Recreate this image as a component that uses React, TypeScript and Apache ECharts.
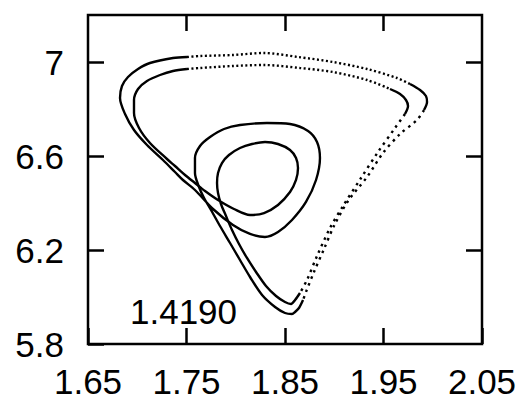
import React, { useEffect, useRef } from 'react';
import * as echarts from 'echarts';

// axis ticks
const xTicks = [1.65, 1.75, 1.85, 1.95, 2.05];
const yTicks = [5.8, 6.2, 6.6, 7.0];
const xTopTicks = [1.75, 1.85, 1.95];
const yRightTicks = [6.2, 6.6, 7.0];
const annotation = '1.4190';

// outer loop (tip -> large inner loop -> left corner -> top start)
const outerLoopSolid = [
  [1.8683, 5.987], [1.8642, 5.9532], [1.8602, 5.9362], [1.8571, 5.9277], [1.85, 5.9319],
  [1.8399, 5.9574], [1.8267, 6.0085], [1.8145, 6.0851], [1.8043, 6.1574], [1.7942, 6.2298],
  [1.784, 6.3021], [1.7749, 6.3702], [1.7678, 6.4213], [1.7627, 6.4681],
  [1.7586, 6.5277], [1.7586, 6.5915], [1.7637, 6.6426], [1.7739, 6.6809], [1.7881, 6.7149],
  [1.8043, 6.7319], [1.8317, 6.7404], [1.8551, 6.7362], [1.8734, 6.7064], [1.8825, 6.6596],
  [1.8855, 6.5915], [1.8815, 6.4979], [1.8713, 6.4043], [1.8571, 6.3277], [1.8429, 6.2766],
  [1.8297, 6.2553], [1.8145, 6.2681], [1.7972, 6.3064], [1.7769, 6.3745], [1.7586, 6.4553],
  [1.7464, 6.4979], [1.7383, 6.5319], [1.7261, 6.583], [1.7099, 6.6468], [1.6967, 6.7106],
  [1.6876, 6.7787], [1.6825, 6.8468], [1.6845, 6.8979], [1.6906, 6.9362], [1.7008, 6.9702],
  [1.7129, 6.9957], [1.7363, 7.017], [1.7505, 7.0213],
];
const outerTopDotted = [
  [1.7505, 7.0213], [1.7637, 7.0255], [1.7972, 7.0298], [1.8287, 7.0383], [1.8632, 7.0213],
  [1.8987, 7.0], [1.9333, 6.9702], [1.9637, 6.9319], [1.9769, 6.9064],
];
const outerCornerSolid = [
  [1.9769, 6.9064], [1.9871, 6.8809], [1.9931, 6.8553], [1.9942, 6.8298], [1.9911, 6.7957],
];
const outerRightDotted = [
  [1.9911, 6.7957], [1.984, 6.7532], [1.9668, 6.6936], [1.9495, 6.6128], [1.9333, 6.5106],
  [1.914, 6.4085], [1.8997, 6.3021], [1.8896, 6.2043], [1.8794, 6.1064], [1.8713, 6.0213],
  [1.8683, 5.987],
];

// inner loop (tip -> small inner loop -> left corner -> top start)
const innerLoopSolid = [
  [1.8652, 6.017], [1.8602, 5.9872], [1.8561, 5.9702], [1.85, 5.9787], [1.8409, 6.0043],
  [1.8307, 6.0468], [1.8206, 6.1064], [1.8114, 6.166], [1.8033, 6.2255], [1.7962, 6.2851],
  [1.7901, 6.3447], [1.785, 6.3957], [1.782, 6.4426], [1.781, 6.4851], [1.782, 6.5277],
  [1.786, 6.5702], [1.7931, 6.6043], [1.8043, 6.634], [1.8165, 6.6511], [1.8297, 6.6596],
  [1.8429, 6.6511], [1.8551, 6.6255], [1.8612, 6.5915], [1.8632, 6.5489], [1.8612, 6.4979],
  [1.8551, 6.4468], [1.8429, 6.3915], [1.8287, 6.3574], [1.8145, 6.3489], [1.7982, 6.3745],
  [1.782, 6.4128], [1.7688, 6.4511], [1.7586, 6.4851], [1.7485, 6.5191], [1.7383, 6.5574],
  [1.7302, 6.5872], [1.7129, 6.6553], [1.7018, 6.7191], [1.6967, 6.783], [1.6967, 6.8383],
  [1.7008, 6.8851], [1.7099, 6.9191], [1.7231, 6.9447], [1.7363, 6.9617], [1.7505, 6.9702],
];
const innerTopDotted = [
  [1.7505, 6.9702], [1.7637, 6.9745], [1.7972, 6.983], [1.8287, 6.9872], [1.8652, 6.9745],
  [1.8987, 6.9574], [1.9333, 6.9234], [1.9566, 6.8851],
];
const innerCornerSolid = [
  [1.9566, 6.8851], [1.9668, 6.8638], [1.9728, 6.8383], [1.9749, 6.8128], [1.9718, 6.7787],
];
const innerRightDotted = [
  [1.9718, 6.7787], [1.9617, 6.7191], [1.9444, 6.617], [1.9272, 6.5064], [1.9089, 6.3872],
  [1.8957, 6.2936], [1.8825, 6.1745], [1.8723, 6.0723], [1.8652, 6.017],
];

const FONT = '"Liberation Sans", Arial, Helvetica, sans-serif';

function seg(data: number[][], dash: number[] | 'solid') {
  return {
    type: 'line',
    data,
    showSymbol: false,
    symbol: 'none',
    smooth: 0.3,
    silent: true,
    lineStyle: { color: '#000', width: 2.4, type: dash, cap: 'butt' },
  };
}

export default function App() {
  const ref = useRef<HTMLDivElement>(null);
  useEffect(() => {
    document.body.style.margin = '0';
    const chart = echarts.init(ref.current!, null, { renderer: 'svg' });
    const tickStyle = { color: '#000', width: 2.5 };
    chart.setOption({
      animation: false,
      backgroundColor: '#fff',
      grid: {
        left: 88, right: 47, top: 15, bottom: 55,
        show: true, borderColor: '#000', borderWidth: 2.5,
        containLabel: false, outerBoundsMode: 'none',
      },
      xAxis: [
        {
          type: 'value', min: 1.65, max: 2.05, position: 'bottom',
          axisLine: { show: false }, splitLine: { show: false },
          axisTick: { show: true, inside: true, length: 16, lineStyle: tickStyle, customValues: xTicks },
          axisLabel: {
            customValues: xTicks, showMinLabel: true, showMaxLabel: true,
            fontSize: 35, lineHeight: 28, fontFamily: FONT, color: '#000', margin: 23,
            formatter: (v: number) => v.toFixed(2),
          },
        },
        {
          type: 'value', min: 1.65, max: 2.05, position: 'top',
          axisLine: { show: false }, splitLine: { show: false },
          axisTick: { show: true, inside: true, length: 16, lineStyle: tickStyle, customValues: xTopTicks },
          axisLabel: { show: false },
        },
      ],
      yAxis: [
        {
          type: 'value', min: 5.8, max: 7.2, position: 'left',
          axisLine: { show: false }, splitLine: { show: false },
          axisTick: { show: true, inside: true, length: 16, lineStyle: tickStyle, customValues: yTicks },
          axisLabel: {
            customValues: yTicks, showMinLabel: true, showMaxLabel: true,
            fontSize: 35, fontFamily: FONT, color: '#000', margin: 24,
            formatter: (v: number) => String(Math.round(v * 10) / 10),
          },
        },
        {
          type: 'value', min: 5.8, max: 7.2, position: 'right',
          axisLine: { show: false }, splitLine: { show: false },
          axisTick: { show: true, inside: true, length: 16, lineStyle: tickStyle, customValues: yRightTicks },
          axisLabel: { show: false },
        },
      ],
      graphic: [
        {
          type: 'text', left: 130, top: 294,
          style: { text: annotation, font: `35px ${FONT}`, fill: '#000' },
        },
      ],
      series: [
        seg(outerLoopSolid, 'solid'),
        seg(outerTopDotted, [2, 2.5]),
        seg(outerCornerSolid, 'solid'),
        seg(outerRightDotted, [2.5, 4.5]),
        seg(innerLoopSolid, 'solid'),
        seg(innerTopDotted, [2, 2.5]),
        seg(innerCornerSolid, 'solid'),
        seg(innerRightDotted, [2.5, 4.5]),
      ],
    });
    return () => chart.dispose();
  }, []);
  return <div ref={ref} style={{ width: 529, height: 399 }} />;
}
